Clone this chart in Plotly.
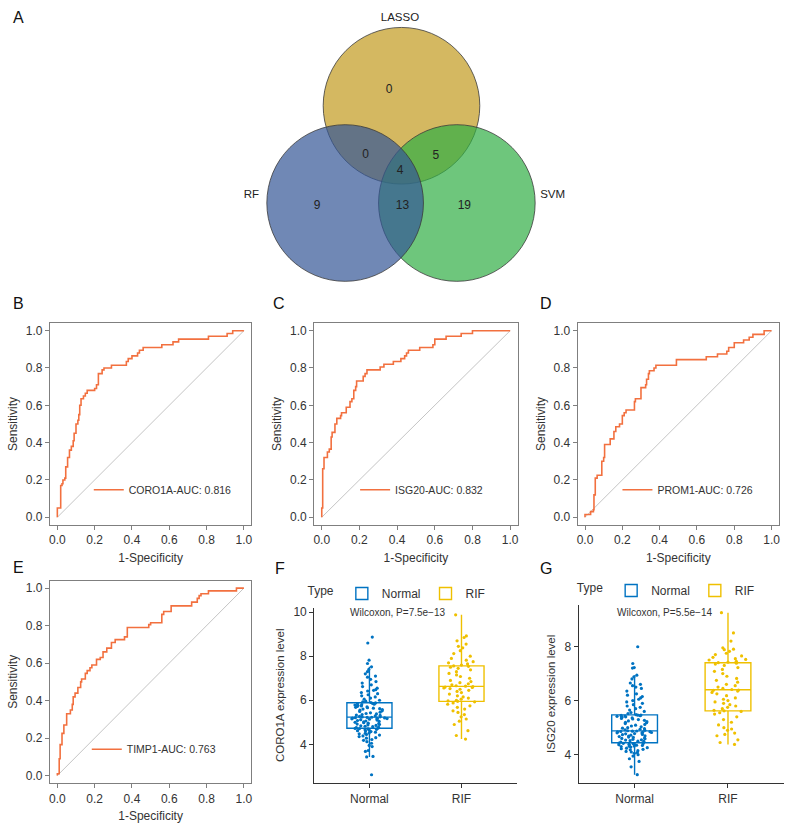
import plotly.graph_objects as go

W, H = 796, 825
FONT = "Liberation Sans, Arial, sans-serif"

# ---------------- data ----------------
venn_sets = ["LASSO", "RF", "SVM"]
venn_counts = ["0", "0", "5", "4", "9", "13", "19"]  # LASSO only, L&RF, L&SVM, all, RF only, RF&SVM, SVM only

coro1a_fpr = [0, 0, 0.018, 0.025, 0.03, 0.04, 0.045, 0.055, 0.065, 0.075, 0.085, 0.09, 0.1, 0.11, 0.115, 0.12,
              0.127, 0.14, 0.15, 0.16, 0.2, 0.21, 0.22, 0.24, 0.25, 0.29, 0.37, 0.38, 0.4, 0.43, 0.44, 0.46,
              0.56, 0.62, 0.65, 0.81, 0.91, 0.94, 1.0]
coro1a_tpr = [0, 0.05, 0.17, 0.18, 0.2, 0.21, 0.27, 0.32, 0.36, 0.38, 0.41, 0.45, 0.5, 0.52, 0.55, 0.6,
              0.635, 0.65, 0.665, 0.68, 0.69, 0.71, 0.77, 0.79, 0.8, 0.815, 0.835, 0.85, 0.865, 0.88, 0.895, 0.91,
              0.925, 0.94, 0.955, 0.97, 0.985, 1.0, 1.0]

isg20_fpr = [0, 0, 0.005, 0.012, 0.03, 0.04, 0.05, 0.055, 0.07, 0.08, 0.1, 0.105, 0.13, 0.15, 0.16, 0.17,
             0.18, 0.185, 0.22, 0.23, 0.24, 0.31, 0.33, 0.38, 0.42, 0.44, 0.45, 0.46, 0.52, 0.59, 0.6, 0.66,
             0.74, 0.8, 1.0]
isg20_tpr = [0, 0.05, 0.26, 0.32, 0.35, 0.365, 0.43, 0.455, 0.5, 0.53, 0.545, 0.56, 0.59, 0.62, 0.635, 0.68,
             0.7, 0.73, 0.755, 0.77, 0.79, 0.805, 0.82, 0.835, 0.85, 0.865, 0.88, 0.895, 0.91, 0.925, 0.955, 0.97,
             0.985, 1.0, 1.0]

prom1_fpr = [0, 0, 0.03, 0.045, 0.048, 0.055, 0.065, 0.09, 0.1, 0.105, 0.135, 0.155, 0.165, 0.185, 0.2, 0.21,
             0.22, 0.265, 0.27, 0.3, 0.325, 0.33, 0.34, 0.345, 0.37, 0.38, 0.49, 0.65, 0.71, 0.76, 0.77, 0.8,
             0.85, 0.88, 0.9, 0.96, 1.0]
prom1_tpr = [0, 0.015, 0.03, 0.04, 0.12, 0.21, 0.225, 0.3, 0.32, 0.39, 0.42, 0.46, 0.485, 0.5, 0.545, 0.56,
             0.575, 0.62, 0.635, 0.695, 0.71, 0.74, 0.77, 0.785, 0.8, 0.815, 0.845, 0.86, 0.875, 0.89, 0.91, 0.935,
             0.95, 0.965, 0.98, 1.0, 1.0]

timp1_fpr = [0, 0, 0.01, 0.015, 0.025, 0.035, 0.05, 0.07, 0.08, 0.085, 0.095, 0.11, 0.125, 0.13, 0.15, 0.16,
             0.175, 0.185, 0.21, 0.23, 0.245, 0.265, 0.29, 0.31, 0.36, 0.375, 0.49, 0.5, 0.56, 0.57, 0.61, 0.72,
             0.75, 0.76, 0.77, 0.81, 0.96, 1.0]
timp1_tpr = [0, 0.01, 0.09, 0.165, 0.225, 0.27, 0.33, 0.35, 0.38, 0.42, 0.44, 0.47, 0.5, 0.515, 0.545, 0.56,
             0.575, 0.59, 0.62, 0.63, 0.66, 0.68, 0.71, 0.725, 0.74, 0.79, 0.805, 0.815, 0.86, 0.875, 0.905, 0.925,
             0.945, 0.96, 0.97, 0.985, 1.0, 1.0]

roc_labels = ["CORO1A-AUC: 0.816", "ISG20-AUC: 0.832", "PROM1-AUC: 0.726", "TIMP1-AUC: 0.763"]
diag = [0, 1]
tick_vals = [0, 0.2, 0.4, 0.6, 0.8, 1.0]

groups = ["Normal", "RIF"]
coro1a_normal = [2.62, 3.43, 3.45, 3.68, 3.72, 3.9, 3.95, 4.05, 4.12, 4.18, 4.22, 4.28, 4.3, 4.35, 4.38, 4.42,
                 4.45, 4.48, 4.5, 4.52, 4.55, 4.58, 4.6, 4.62, 4.64, 4.66, 4.68, 4.7, 4.71, 4.72,
                 4.74, 4.76, 4.78, 4.8, 4.82, 4.84, 4.86, 4.88, 4.9, 4.92, 4.94, 4.96, 4.98, 5.0, 5.02, 5.04,
                 5.06, 5.08, 5.1, 5.12, 5.14, 5.15, 5.16, 5.17, 5.18, 5.19, 5.2, 5.21, 5.22, 5.23,
                 5.24, 5.25, 5.27, 5.29, 5.31, 5.33, 5.35, 5.38, 5.4, 5.43, 5.46, 5.49, 5.52, 5.55, 5.58, 5.6,
                 5.62, 5.64, 5.66, 5.68, 5.7, 5.72, 5.74, 5.76, 5.78, 5.8, 5.82, 5.84, 5.86, 5.88,
                 5.9, 5.93, 5.96, 6.0, 6.05, 6.1, 6.15, 6.2, 6.25, 6.3, 6.35, 6.42, 6.45, 6.48, 6.55, 6.62,
                 6.7, 6.78, 6.85, 6.95, 7.05, 7.1, 7.2, 7.3, 7.4, 7.52, 7.67, 7.82, 8.6, 8.87]
coro1a_rif = [4.24, 4.4, 4.62, 4.9, 5.05, 5.15, 5.25, 5.35, 5.45, 5.52, 5.6, 5.68, 5.75, 5.82, 5.88, 5.93, 5.95,
              5.97, 6.0, 6.05, 6.1, 6.15, 6.2, 6.28, 6.35, 6.4, 6.45, 6.5, 6.53, 6.56, 6.58, 6.6, 6.62,
              6.64, 6.66, 6.7, 6.75, 6.8, 6.85, 6.9, 7.0, 7.08, 7.15, 7.22, 7.3, 7.38, 7.45, 7.5, 7.54,
              7.56, 7.6, 7.65, 7.7, 7.75, 7.82, 7.9, 8.0, 8.12, 8.25, 8.38, 8.45, 8.55, 8.7, 8.85, 8.92, 9.88]
isg20_normal = [3.26, 3.55, 3.75, 3.85, 3.95, 4.0, 4.05, 4.08, 4.1, 4.12, 4.15, 4.18, 4.2, 4.22, 4.24, 4.26,
                4.28, 4.3, 4.31, 4.32, 4.34, 4.35, 4.36, 4.37, 4.38, 4.39, 4.4, 4.41, 4.42, 4.43,
                4.45, 4.47, 4.49, 4.5, 4.52, 4.54, 4.55, 4.57, 4.59, 4.6, 4.62, 4.64, 4.65, 4.67, 4.69, 4.7,
                4.72, 4.74, 4.75, 4.77, 4.78, 4.8, 4.81, 4.82, 4.83, 4.84, 4.85, 4.86, 4.87, 4.875,
                4.885, 4.9, 4.92, 4.94, 4.96, 4.98, 5.0, 5.03, 5.06, 5.09, 5.12, 5.15, 5.18, 5.2, 5.22, 5.25,
                5.27, 5.3, 5.32, 5.34, 5.36, 5.38, 5.4, 5.41, 5.42, 5.43, 5.44, 5.45, 5.46, 5.465,
                5.48, 5.52, 5.56, 5.6, 5.65, 5.7, 5.75, 5.8, 5.85, 5.9, 5.95, 6.0, 6.05, 6.1, 6.15, 6.2,
                6.25, 6.35, 6.45, 6.5, 6.55, 6.6, 6.65, 6.8, 6.88, 6.94, 7.2, 7.22, 7.37, 7.99]
isg20_rif = [4.38, 4.45, 4.55, 4.7, 4.75, 4.8, 4.9, 4.95, 5.0, 5.1, 5.2, 5.3, 5.4, 5.5, 5.55, 5.6, 5.62,
             5.64, 5.7, 5.75, 5.8, 5.85, 5.9, 5.95, 6.0, 6.05, 6.1, 6.18, 6.25, 6.3, 6.35, 6.38, 6.39,
             6.41, 6.45, 6.5, 6.55, 6.6, 6.68, 6.75, 6.82, 6.9, 7.0, 7.08, 7.15, 7.22, 7.3, 7.35, 7.38,
             7.4, 7.42, 7.45, 7.5, 7.52, 7.55, 7.6, 7.65, 7.7, 7.75, 7.82, 7.88, 7.9, 7.95, 8.2, 8.5, 9.25]
wilcox_labels = ["Wilcoxon, P=7.5e\u221213", "Wilcoxon, P=5.5e\u221214"]

# ---------------- styling / layout helpers ----------------
def fx(px):
    return px / W

def fy(py):
    return 1 - py / H

ROC_COLOR = "#F2703F"
DIAG_COLOR = "#BDBDBD"
BLUE = "#0073C2"
GOLD = "#EFC000"
TXT = "#333333"

fig = go.Figure()

# ---------------- ROC panels ----------------
roc_data = [(coro1a_fpr, coro1a_tpr), (isg20_fpr, isg20_tpr), (prom1_fpr, prom1_tpr), (timp1_fpr, timp1_tpr)]
roc_frames = [(49, 251, 322, 524), (314, 518, 322, 524), (578, 780, 322, 524), (49, 251, 580, 783)]
roc_leg = [(88, 489), (355, 489), (618, 489), (86, 749)]
roc_legend_names = ["legend", "legend2", "legend3", "legend4"]

for i, ((xs, ys), lab) in enumerate(zip(roc_data, roc_labels)):
    ax = "" if i == 0 else str(i + 1)
    fig.add_trace(go.Scatter(x=diag, y=diag, mode="lines", line=dict(color=DIAG_COLOR, width=0.9),
                             showlegend=False, hoverinfo="skip", xaxis="x" + ax, yaxis="y" + ax))
    fig.add_trace(go.Scatter(x=xs, y=ys, mode="lines", line=dict(color=ROC_COLOR, width=1.6, shape="hv"),
                             name=lab, legend=roc_legend_names[i], xaxis="x" + ax, yaxis="y" + ax))

layout = dict(width=W, height=H, margin=dict(l=0, r=0, t=0, b=0), paper_bgcolor="white",
              plot_bgcolor="rgba(0,0,0,0)", font=dict(family=FONT, color=TXT), showlegend=True,
              boxmode="overlay")

for i, (l, r, t, b) in enumerate(roc_frames):
    ax = "" if i == 0 else str(i + 1)
    common = dict(showline=True, mirror=True, linecolor="#7F7F7F", linewidth=1, ticks="outside", ticklen=4,
                  tickcolor="#7F7F7F", showgrid=False, zeroline=False, range=[-0.04, 1.04],
                  tickvals=tick_vals, tickformat=".1f", tickfont=dict(size=12, color=TXT))
    layout["xaxis" + ax] = dict(common, domain=[fx(l), fx(r)], anchor="y" + ax,
                                title=dict(text="1-Specificity", font=dict(size=12, color=TXT), standoff=7))
    layout["yaxis" + ax] = dict(common, domain=[fy(b), fy(t)], anchor="x" + ax,
                                title=dict(text="Sensitivity", font=dict(size=12, color=TXT), standoff=5))
    lx, ly = roc_leg[i]
    layout[roc_legend_names[i]] = dict(x=fx(lx), y=fy(ly), xanchor="left", yanchor="middle",
                                       bgcolor="rgba(0,0,0,0)", font=dict(size=10.5, color=TXT))

# ---------------- box panels ----------------
box_sets = [(coro1a_normal, coro1a_rif), (isg20_normal, isg20_rif)]
box_frames = [(314, 517, 607, 783), (579, 785, 604, 783)]
box_ranges = [[2.24, 10.21], [2.95, 9.55]]
box_ticks = [[4, 6, 8, 10], [4, 6, 8]]
box_titles = ["CORO1A expression level", "ISG20 expression level"]
box_legend_names = ["legend5", "legend6"]
box_leg_pos = [(398, 593), (668, 590)]
wilcox_pos = [(397, 612), (665, 612)]

for j, (nv, rv) in enumerate(box_sets):
    ax = str(5 + j)
    for vals, g, c in [(nv, groups[0], BLUE), (rv, groups[1], GOLD)]:
        fig.add_trace(go.Box(x=[g] * len(vals), y=vals, name=g, boxpoints="all", jitter=0.85, pointpos=0,
                             marker=dict(color=c, size=3.2), line=dict(color=c, width=1.4),
                             fillcolor="rgba(255,255,255,0)", whiskerwidth=0,
                             legend=box_legend_names[j], xaxis="x" + ax, yaxis="y" + ax))
    l, r, t, b = box_frames[j]
    layout["xaxis" + ax] = dict(domain=[fx(l), fx(r)], anchor="y" + ax, type="category",
                                categoryorder="array", categoryarray=groups, range=[-0.6, 1.6],
                                showline=True, linecolor=TXT, linewidth=1, ticks="outside", ticklen=4,
                                tickcolor=TXT, showgrid=False, zeroline=False,
                                tickfont=dict(size=12, color=TXT))
    layout["yaxis" + ax] = dict(domain=[fy(b), fy(t)], anchor="x" + ax, range=box_ranges[j],
                                tickvals=box_ticks[j], showline=True, linecolor=TXT, linewidth=1,
                                ticks="outside", ticklen=4, tickcolor=TXT, showgrid=False, zeroline=False,
                                tickfont=dict(size=12, color=TXT),
                                title=dict(text=box_titles[j], font=dict(size=11.5, color=TXT), standoff=6))
    bx, by = box_leg_pos[j]
    layout[box_legend_names[j]] = dict(x=fx(bx), y=fy(by), xanchor="center", yanchor="middle",
                                       orientation="h", bgcolor="rgba(0,0,0,0)", tracegroupgap=0,
                                       font=dict(size=12, color=TXT),
                                       title=dict(text="Type", side="left", font=dict(size=12, color=TXT)))

# ---------------- Venn diagram ----------------
venn_circles = [  # cx, cy, r, fill (drawn in this order)
    (401.5, 104, 78.5, "rgba(194,154,30,0.70)"),
    (457, 201.5, 78.5, "rgba(48,174,69,0.70)"),
    (345, 201.5, 78.5, "rgba(51,86,149,0.70)"),
]
venn_set_pos = [(400, 16), (251, 194), (553, 194)]
venn_count_pos = [(389, 88), (365.5, 153), (436, 154), (400, 169), (317, 204), (402.5, 204), (464.5, 204)]

layout["xaxis7"] = dict(domain=[0, 1], range=[0, W], visible=False, anchor="y7")
layout["yaxis7"] = dict(domain=[fy(450), 1], range=[450, 0], visible=False, anchor="x7")

shapes = []
for cx, cy, r, col in venn_circles:
    shapes.append(dict(type="circle", xref="x7", yref="y7", x0=cx - r, x1=cx + r, y0=cy - r, y1=cy + r,
                       fillcolor=col, line=dict(color="#3a3a3a", width=0.8), layer="below"))

fig.add_trace(go.Scatter(x=[p[0] for p in venn_count_pos], y=[p[1] for p in venn_count_pos],
                         text=venn_counts, mode="text", textfont=dict(size=12, color="#222222", family=FONT),
                         showlegend=False, hoverinfo="skip", xaxis="x7", yaxis="y7"))
fig.add_trace(go.Scatter(x=[p[0] for p in venn_set_pos], y=[p[1] for p in venn_set_pos],
                         text=venn_sets, mode="text", textfont=dict(size=11.5, color="#222222", family=FONT),
                         showlegend=False, hoverinfo="skip", xaxis="x7", yaxis="y7"))

# ---------------- annotations ----------------
annotations = []
panel_letters = ["A", "B", "C", "D", "E", "F", "G"]
letter_pos = [(18, 16), (18, 302), (279, 302), (546, 302), (18, 567), (280, 568), (546, 568)]
for lt, (px, py) in zip(panel_letters, letter_pos):
    annotations.append(dict(text=lt, x=fx(px), y=fy(py), xref="paper", yref="paper", showarrow=False,
                            xanchor="center", yanchor="middle", font=dict(size=16, color="#111111", family=FONT)))
for txt, (px, py) in zip(wilcox_labels, wilcox_pos):
    annotations.append(dict(text=txt, x=fx(px), y=fy(py), xref="paper", yref="paper", showarrow=False,
                            xanchor="center", yanchor="middle", font=dict(size=10, color=TXT, family=FONT)))

layout["shapes"] = shapes
layout["annotations"] = annotations
fig.update_layout(**layout)

fig.write_html("out.html", config={"displayModeBar": False},
               post_script="document.body.style.margin='0px';")
